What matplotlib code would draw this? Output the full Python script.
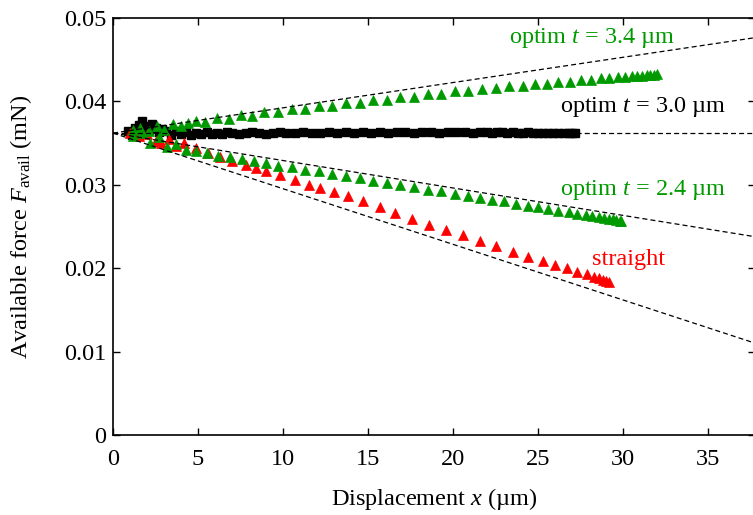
import matplotlib
matplotlib.use("Agg")
import matplotlib.pyplot as plt

plt.rcParams['font.family'] = ['Liberation Serif', 'DejaVu Serif']
plt.rcParams['mathtext.fontset'] = 'custom'
plt.rcParams['mathtext.rm'] = 'Liberation Serif'
plt.rcParams['mathtext.it'] = 'Liberation Serif:italic'

# optim t = 3.4 um (green, upper)
x_34 = [1.2, 1.6, 2.1, 2.6, 3.0, 3.5, 4.0, 4.4, 4.9, 5.4, 6.1, 6.8, 7.5, 8.2, 8.9,
        9.7, 10.5, 11.3, 12.1, 12.9, 13.7, 14.5, 15.3, 16.1, 16.9, 17.7, 18.5,
        19.3, 20.1, 20.9, 21.7, 22.5, 23.3, 24.1, 24.8, 25.5, 26.2, 26.9, 27.5,
        28.1, 28.7, 29.2, 29.7, 30.1, 30.5, 30.8, 31.1, 31.4, 31.6, 31.8, 32.0]
y_34 = [0.03654, 0.0368, 0.0364, 0.0371, 0.0366, 0.0373, 0.0370, 0.03743, 0.0377,
        0.0375, 0.0380, 0.0379, 0.0384, 0.0383, 0.0387, 0.0387, 0.0391, 0.0391,
        0.0395, 0.0395, 0.03985, 0.03985, 0.0402, 0.0402, 0.04055, 0.04055,
        0.0409, 0.0409, 0.0412, 0.04125, 0.0415, 0.04155, 0.0418, 0.04185,
        0.0421, 0.0421, 0.04235, 0.04235, 0.04255, 0.04258, 0.04275, 0.04275,
        0.0429, 0.0429, 0.04302, 0.04303, 0.0431, 0.04312, 0.04317, 0.0432, 0.04323]

# optim t = 3.0 um (black squares)
x_30 = [0.9, 1.1, 1.3, 1.5, 1.7, 1.9, 2.1, 2.3, 2.5, 2.7, 2.9, 3.1, 3.4, 3.7, 4.0,
        4.3, 4.6, 4.9, 5.2, 5.5, 5.8, 6.1, 6.4, 6.7, 7.0, 7.4, 7.8, 8.2, 8.6, 9.0,
        9.4, 9.8, 10.2, 10.7, 11.2, 11.7, 12.2, 12.7, 13.2, 13.7, 14.2, 14.7,
        15.2, 15.7, 16.2, 16.7, 17.2, 17.7, 18.2, 18.7, 19.2, 19.7, 20.2, 20.7,
        21.2, 21.6, 22.0, 22.3, 22.6, 22.9, 23.2, 23.5, 23.8, 24.1, 24.4, 24.7,
        25.0, 25.3, 25.6, 25.9, 26.2, 26.5, 26.8, 27.0, 27.2]
y_30 = [0.0365, 0.0360, 0.0368, 0.0372, 0.0376, 0.0370, 0.0366, 0.0373, 0.0368,
        0.0363, 0.0367, 0.0364, 0.0360, 0.0364, 0.0361, 0.0363, 0.0360, 0.0362,
        0.0361, 0.0363, 0.0361, 0.0362, 0.0361, 0.0363, 0.0362, 0.0361, 0.0362,
        0.0363, 0.0362, 0.0361, 0.0362, 0.0363, 0.0362, 0.0362, 0.0363, 0.0362,
        0.0362, 0.0363, 0.0362, 0.0363, 0.0362, 0.0363, 0.0362, 0.0363, 0.0362,
        0.0363, 0.0363, 0.0362, 0.0363, 0.0363, 0.0362, 0.0363, 0.0363, 0.0363,
        0.0362, 0.0363, 0.0363, 0.0362, 0.0363, 0.0363, 0.0362, 0.0363, 0.0362,
        0.0362, 0.0363, 0.0362, 0.0362, 0.0362, 0.0362, 0.0362, 0.0362, 0.0362,
        0.0362, 0.0362, 0.0362]

# optim t = 2.4 um (green, lower)
x_24 = [1.2, 1.7, 2.2, 2.7, 3.2, 3.7, 4.3, 4.9, 5.5, 6.2, 6.9, 7.6, 8.3, 9.0, 9.7,
        10.5, 11.3, 12.1, 12.9, 13.7, 14.5, 15.3, 16.1, 16.9, 17.7, 18.5, 19.3,
        20.1, 20.9, 21.6, 22.3, 23.0, 23.7, 24.4, 25.0, 25.6, 26.2, 26.8, 27.3,
        27.8, 28.2, 28.6, 28.9, 29.2, 29.4, 29.6, 29.8, 29.9]
y_24 = [0.0358, 0.0362, 0.0350, 0.0357, 0.0345, 0.0349, 0.0342, 0.0340, 0.0338,
        0.0335, 0.0333, 0.0331, 0.0328, 0.0326, 0.0323, 0.0321, 0.0318, 0.0316,
        0.0313, 0.0310, 0.0308, 0.0305, 0.0302, 0.0300, 0.0297, 0.0294, 0.0292,
        0.0289, 0.0287, 0.0284, 0.0282, 0.0280, 0.0277, 0.0275, 0.0273, 0.0271,
        0.0269, 0.0267, 0.02655, 0.0264, 0.02625, 0.0261, 0.0260, 0.0259, 0.02586,
        0.0258, 0.0257, 0.0257]

# straight (red)
x_st = [1.0, 1.5, 2.0, 2.5, 2.8, 3.3, 3.7, 4.2, 4.9, 5.6, 6.3, 7.0, 7.8, 8.4, 9.0,
        9.8, 10.7, 11.5, 12.2, 13.0, 13.8, 14.7, 15.7, 16.6, 17.6, 18.6, 19.6,
        20.6, 21.6, 22.5, 23.5, 24.4, 25.3, 26.0, 26.7, 27.3, 27.9, 28.3, 28.6,
        28.8, 29.0, 29.2]
y_st = [0.0362, 0.0358, 0.0361, 0.0353, 0.0350, 0.0355, 0.0347, 0.0350, 0.0344,
        0.0338, 0.0333, 0.0329, 0.0324, 0.0320, 0.0317, 0.0312, 0.0306, 0.0300,
        0.0296, 0.0291, 0.0287, 0.0280, 0.0273, 0.0266, 0.0259, 0.0252, 0.0246,
        0.0240, 0.0233, 0.0227, 0.0220, 0.0214, 0.0209, 0.0204, 0.0200, 0.0196,
        0.0193, 0.0190, 0.0188, 0.0186, 0.0185, 0.0183]

# dashed reference lines: value at x=0 and slope
f0 = 0.0362
slopes = [0.000303, 0.0, -0.000329, -0.000667]

xmax = 37.76
green = '#009a00'

fig = plt.figure(figsize=(7.53, 5.15), dpi=100)
ax = fig.add_axes([113 / 753, 80 / 515, 642 / 753, 417 / 515])

for s in slopes:
    ax.plot([0, xmax], [f0, f0 + s * xmax], color='black', lw=0.9,
            dashes=(4, 2.5), zorder=3)

ax.plot(x_30, y_30, 's', color='black', ms=5.4, mec='black', zorder=2)
ax.plot(x_st, y_st, '^', color='red', ms=6.5, mec='red', mew=0.5, zorder=2)
ax.plot(x_24, y_24, '^', color=green, ms=6.5, mec=green, mew=0.5, zorder=2)
ax.plot(x_34, y_34, '^', color=green, ms=6.5, mec=green, mew=0.5, zorder=2)

fs = 17.5
ax.text(28.2, 0.0476, 'optim $t$ = 3.4 µm', color=green, fontsize=fs,
        ha='center', va='center')
ax.text(31.2, 0.0393, 'optim $t$ = 3.0 µm', color='black', fontsize=fs,
        ha='center', va='center')
ax.text(31.2, 0.0294, 'optim $t$ = 2.4 µm', color=green, fontsize=fs,
        ha='center', va='center')
ax.text(30.3, 0.0211, 'straight', color='red', fontsize=fs,
        ha='center', va='center')

ax.set_xlim(0, xmax)
ax.set_ylim(0, 0.05)
ax.set_xticks([0, 5, 10, 15, 20, 25, 30, 35])
ax.set_yticks([0, 0.01, 0.02, 0.03, 0.04, 0.05])
ax.set_yticklabels(['0', '0.01', '0.02', '0.03', '0.04', '0.05'])
ax.tick_params(direction='in', length=5, width=1, top=True, right=True,
               labelsize=fs)
ax.tick_params(axis='x', pad=10)
ax.tick_params(axis='y', pad=5)
for sp in ax.spines.values():
    sp.set_linewidth(1.2)

ax.set_xlabel('Displacement $x$ (µm)', fontsize=fs)
ax.xaxis.set_label_coords(0.5, -0.123)
ax.set_ylabel(r'Available force $F_{\mathrm{avail}}$ (mN)', fontsize=fs)
ax.yaxis.set_label_coords(-0.123, 0.5)

fig.savefig('out.png', dpi=100)
